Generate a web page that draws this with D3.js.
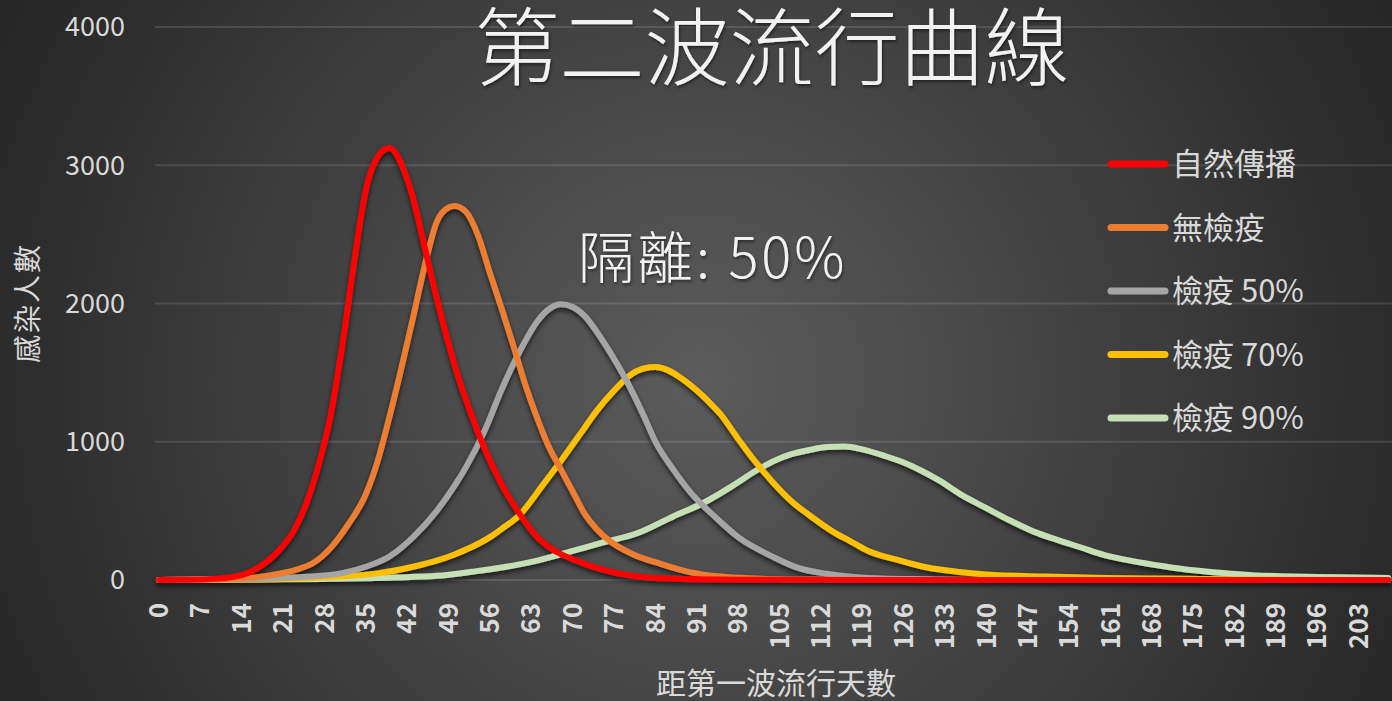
<!DOCTYPE html>
<html>
<head>
<meta charset="utf-8">
<script src="https://cdn.jsdelivr.net/npm/d3@7"></script>
<style>
body { margin:0; background:#262626; overflow:hidden; }
text { font-family: 'Noto Sans CJK TC', 'Noto Sans', sans-serif; }
</style>
</head>
<body>
<div id="chart"></div>
<script>
// values
var tickDays = [0,7,14,21,28,35,42,49,56,63,70,77,84,91,98,105,112,119,126,133,140,147,154,161,168,175,182,189,196,203];
var yTicks = [0,1000,2000,3000,4000];
var seriesNames = ['自然傳播','無檢疫','檢疫 50%','檢疫 70%','檢疫 90%'];

var redDays  = [0,5,10,14,17,20,23,25,27,29,31,33,35,37,39,41,43,45,47,49,51,53,55,58,61,64,67,70,75,80,85,90,100,120,208];
var redCases = [0,2,10,35,95,200,370,560,830,1180,1690,2290,2820,3060,3125,3010,2760,2400,2040,1710,1420,1180,960,690,480,310,210,150,75,30,12,5,2,0,0];

var orangeDays  = [0,7,14,19,23,26,29,32,35,37,39,41,43,45,47,49,50,52,54,56,58,60,62,64,66,68,70,72,74,76,80,85,90,95,100,110,130,208];
var orangeCases = [0,2,10,35,72,121,230,400,620,860,1180,1530,1900,2280,2590,2695,2705,2660,2490,2220,1960,1690,1410,1170,960,800,640,480,370,290,190,115,55,25,12,3,0,0];

var grayDays  = [0,14,21,28,31,35,39,43,47,50,52,55,58,61,64,66,68,70,72,74,76,79,82,84,87,90,94,98,104,108,113,120,130,140,208];
var grayCases = [0,5,15,32,50,96,170,310,500,680,820,1070,1380,1650,1870,1960,1995,1975,1910,1800,1670,1450,1190,1000,800,630,460,310,165,90,45,15,5,0,0];

var yellowDays  = [0,14,21,30,37,43,47,50,53,56,58,61,65,68,70,72,74,77,80,82,84,86,88,91,93,95,98,101,104,107,110,114,117,120,125,130,135,140,150,160,170,180,190,200,208];
var yellowCases = [0,3,8,24,48,96,140,185,240,310,370,470,690,860,980,1100,1220,1370,1490,1530,1540,1520,1470,1370,1290,1200,1020,850,700,570,470,350,280,210,145,90,60,40,25,15,10,6,2,0,0];

var greenDays  = [0,14,28,40,47,53,58,64,70,75,81,87,92,97,101,104,107,110,113,116,119,123,126,129,132,136,140,144,148,152,156,160,165,170,175,180,185,190,196,203,208];
var greenCases = [0,4,8,18,30,60,90,140,210,270,340,460,555,680,790,860,910,940,962,965,945,895,850,790,720,610,520,430,350,290,235,180,135,100,70,50,35,28,22,18,15];

var seriesColors = ['#ff0000','#ed7d31','#a5a5a5','#ffc000','#c5e0b4'];

var series = [
	d3.zip(redDays, redCases),
	d3.zip(orangeDays, orangeCases),
	d3.zip(grayDays, grayCases),
	d3.zip(yellowDays, yellowCases),
	d3.zip(greenDays, greenCases)
];

var W = 1392, H = 701;
var svg = d3.select('#chart')
	.append('svg')
	.attr('width', W)
	.attr('height', H);

var defs = svg.append('defs');
var bg = defs.append('radialGradient')
	.attr('id', 'bg')
	.attr('gradientUnits', 'userSpaceOnUse')
	.attr('cx', 700).attr('cy', 380).attr('r', 780);
bg.append('stop').attr('offset', '0%').attr('stop-color', '#5c5c5c');
bg.append('stop').attr('offset', '100%').attr('stop-color', '#262626');

var shadow = defs.append('filter').attr('id', 'shadow')
	.attr('x', '-10%').attr('y', '-10%').attr('width', '120%').attr('height', '120%');
shadow.append('feDropShadow')
	.attr('dx', 0).attr('dy', 3).attr('stdDeviation', 2.5)
	.attr('flood-color', '#000').attr('flood-opacity', 0.65);

var tshadow = defs.append('filter').attr('id', 'tshadow');
tshadow.append('feDropShadow')
	.attr('dx', 1).attr('dy', 2).attr('stdDeviation', 1.5)
	.attr('flood-color', '#000').attr('flood-opacity', 0.5);

svg.append('rect')
	.attr('width', W).attr('height', H)
	.attr('fill', 'url(#bg)');

// scales
var x = d3.scaleLinear().domain([0, 208]).range([159, 159 + 208*5.91]);
var y = d3.scaleLinear().domain([0, 4000]).range([580, 27]);

// gridlines
svg.append('g')
	.selectAll('line')
	.data(yTicks)
	.enter()
	.append('line')
	.attr('x1', 155).attr('x2', W)
	.attr('y1', d=>y(d)).attr('y2', d=>y(d))
	.style('stroke', '#ffffff')
	.style('stroke-opacity', 0.12)
	.style('stroke-width', 2);

// y tick labels
svg.append('g')
	.selectAll('text')
	.data(yTicks)
	.enter()
	.append('text')
	.attr('x', 125)
	.attr('y', d=>y(d))
	.attr('dy', '0.35em')
	.attr('text-anchor', 'end')
	.style('font-size', '27px')
	.style('fill', '#d9d9d9')
	.text(d=>d);

// x tick labels
svg.append('g')
	.selectAll('text')
	.data(tickDays)
	.enter()
	.append('text')
	.attr('transform', d=>'translate('+x(d)+',603) rotate(-90)')
	.attr('dy', '0.35em')
	.attr('text-anchor', 'end')
	.style('font-size', '26px')
	.style('font-weight', 'bold')
	.style('fill', '#d9d9d9')
	.text(d=>d);

// curves, first series on top
var line = d3.line()
	.x(d=>x(d[0]))
	.y(d=>y(d[1]))
	.curve(d3.curveMonotoneX);

svg.append('g')
	.attr('filter', 'url(#shadow)')
	.selectAll('path')
	.data(series.map((s, i)=>({s:s, i:i})).reverse())
	.enter()
	.append('path')
	.attr('d', d=>line(d.s))
	.style('fill', 'none')
	.style('stroke', d=>seriesColors[d.i])
	.style('stroke-width', 6)
	.style('stroke-linejoin', 'round')
	.style('stroke-linecap', 'round');

// legend
var legend = svg.append('g')
	.selectAll('g')
	.data(seriesNames)
	.enter()
	.append('g')
	.attr('transform', (d, i)=>'translate(0,'+(164 + i*63.5)+')');
legend.append('line')
	.attr('x1', 1111).attr('x2', 1165)
	.style('stroke', (d, i)=>seriesColors[i])
	.style('stroke-width', 7)
	.style('stroke-linecap', 'round');
legend.append('text')
	.attr('x', 1172)
	.attr('dy', '0.36em')
	.style('font-size', '31px')
	.style('fill', '#d9d9d9')
	.text(d=>d);

// title
svg.append('text')
	.attr('x', 772)
	.attr('y', 79)
	.attr('text-anchor', 'middle')
	.attr('filter', 'url(#tshadow)')
	.style('font-size', '85px')
	.style('font-weight', 300)
	.style('fill', '#f2f2f2')
	.text('第二波流行曲線');

// annotation
svg.append('text')
	.attr('x', 578)
	.attr('y', 278)
	.attr('filter', 'url(#tshadow)')
	.style('font-size', '56px')
	.style('font-weight', 300)
	.style('letter-spacing', '3px')
	.style('fill', '#f2f2f2')
	.text('隔離: 50%');

// axis titles
svg.append('text')
	.attr('transform', 'translate(28,303) rotate(-90)')
	.attr('dy', '0.35em')
	.attr('text-anchor', 'middle')
	.style('font-size', '28px')
	.style('letter-spacing', '2px')
	.style('fill', '#d9d9d9')
	.text('感染人數');

svg.append('text')
	.attr('x', 776)
	.attr('y', 694)
	.attr('text-anchor', 'middle')
	.style('font-size', '30px')
	.style('fill', '#d9d9d9')
	.text('距第一波流行天數');
</script>
</body>
</html>
